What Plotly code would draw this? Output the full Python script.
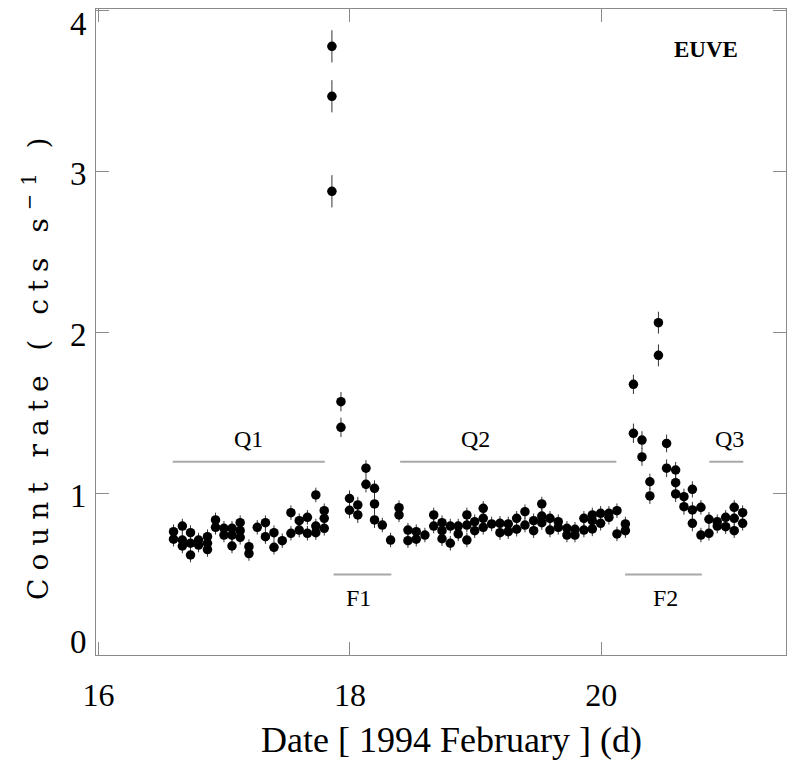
import plotly.graph_objects as go

# EUVE light curve, 1994 February: one time per orbit, several rates per orbit
orbit_date = [
    16.597, 16.667, 16.732, 16.796, 16.867, 16.931, 16.998, 17.062, 17.127,
    17.197, 17.263, 17.328, 17.396, 17.462, 17.531, 17.597, 17.662, 17.729,
    17.796, 17.857, 17.929, 17.997, 18.063, 18.128, 18.196, 18.258, 18.324,
    18.391, 18.462, 18.528, 18.597, 18.667, 18.733, 18.799, 18.862, 18.931,
    18.993, 19.061, 19.128, 19.194, 19.260, 19.327, 19.393, 19.462, 19.527,
    19.592, 19.658, 19.727, 19.791, 19.862, 19.929, 19.995, 20.061, 20.125,
    20.192, 20.256, 20.324, 20.387, 20.455, 20.520, 20.592, 20.658, 20.725,
    20.793, 20.857, 20.923, 20.990, 21.058, 21.125,
]

orbit_rates = [
    [0.766, 0.719], [0.801, 0.714, 0.677], [0.760, 0.694, 0.621], [0.714, 0.683],
    [0.735, 0.694, 0.655], [0.839, 0.793], [0.787, 0.745], [0.787, 0.745, 0.677],
    [0.822, 0.772, 0.731], [0.673, 0.630], [0.793], [0.822, 0.735], [0.760, 0.669],
    [0.710], [0.884, 0.756], [0.834, 0.776], [0.855, 0.756], [0.994, 0.801, 0.760],
    [0.896, 0.849, 0.787], [3.78, 3.47, 2.88], [1.573, 1.414], [0.972, 0.899],
    [0.932, 0.870], [1.160, 1.060], [1.035, 0.938, 0.839], [0.807], [0.714],
    [0.915, 0.870], [0.776, 0.710], [0.766, 0.719], [0.745], [0.870, 0.801],
    [0.822, 0.772, 0.722], [0.801, 0.694], [0.801, 0.752], [0.870, 0.807, 0.714],
    [0.828, 0.772], [0.911, 0.849, 0.793], [0.814], [0.818, 0.760], [0.814, 0.766],
    [0.849, 0.781], [0.890, 0.807], [0.834, 0.772], [0.938, 0.863, 0.822],
    [0.849, 0.776], [0.828, 0.793], [0.787, 0.745], [0.781, 0.745], [0.849, 0.776],
    [0.870, 0.834, 0.783], [0.880, 0.818], [0.880, 0.855], [0.896, 0.752],
    [0.814, 0.772], [1.681, 1.377], [1.335, 1.230], [1.076, 0.988], [2.064, 1.861],
    [1.314, 1.160], [1.149, 1.070, 1.000], [0.983, 0.921], [1.029, 0.901, 0.818],
    [0.917, 0.745], [0.843, 0.756], [0.828, 0.801], [0.855, 0.797],
    [0.917, 0.849, 0.772], [0.884, 0.818],
]

orbit_err = [
    0.045, 0.045, 0.045, 0.045, 0.045, 0.045, 0.045, 0.045, 0.045,
    0.045, 0.045, 0.045, 0.045, 0.045, 0.045, 0.045, 0.045, 0.045,
    0.045, 0.100, 0.060, 0.050, 0.050, 0.050, 0.050, 0.045, 0.045,
    0.045, 0.045, 0.045, 0.045, 0.045, 0.045, 0.045, 0.045, 0.045,
    0.045, 0.045, 0.045, 0.045, 0.045, 0.045, 0.045, 0.045, 0.045,
    0.045, 0.045, 0.045, 0.045, 0.045, 0.045, 0.045, 0.045, 0.045,
    0.045, 0.060, 0.055, 0.050, 0.068, 0.055, 0.050, 0.050, 0.050,
    0.045, 0.045, 0.045, 0.045, 0.045, 0.045,
]

# Quiescent (Q) and flare (F) intervals
interval_name = ["Q1", "Q2", "Q3", "F1", "F2"]
interval_start = [16.59, 18.40, 20.86, 17.87, 20.19]
interval_end = [17.80, 20.12, 21.13, 18.33, 20.80]
interval_level = [1.2, 1.2, 1.2, 0.5, 0.5]
interval_label_date = [17.19, 19.00, 21.02, 18.07, 20.51]

x_ticks = [16, 18, 20]
y_ticks = [0, 1, 2, 3, 4]

date = [d for d, rs in zip(orbit_date, orbit_rates) for _ in rs]
rate = [r for rs in orbit_rates for r in rs]
err = [e for e, rs in zip(orbit_err, orbit_rates) for _ in rs]

SERIF = "Liberation Serif, Times New Roman, serif"
AXIS_GREY = "#8a8a8a"

fig = go.Figure()

# interval bars
for name, a, b, lvl in zip(interval_name, interval_start, interval_end, interval_level):
    fig.add_trace(go.Scatter(
        x=[a, b], y=[lvl, lvl], mode="lines",
        line=dict(color="#a8a8a8", width=2),
        hoverinfo="skip", showlegend=False,
    ))

fig.add_trace(go.Scatter(
    x=date, y=rate, mode="markers",
    marker=dict(color="black", size=9.5),
    error_y=dict(type="data", array=err, visible=True,
                 thickness=1, width=0, color="#333333"),
    showlegend=False,
))

annotations = []
for name, a, b, lvl, lx in zip(interval_name, interval_start, interval_end,
                               interval_level, interval_label_date):
    above = lvl > 1
    annotations.append(dict(
        x=lx, y=lvl, xref="x", yref="y", text=name, showarrow=False,
        yshift=23 if above else -24,
        font=dict(family=SERIF, size=24, color="black"),
    ))

annotations.append(dict(
    x=20.83, y=3.76, xref="x", yref="y", text="<b>EUVE</b>", showarrow=False,
    font=dict(family=SERIF, size=23, color="black"),
))

for v in y_ticks:
    if v == y_ticks[0]:
        anchor, shift = "bottom", -7
    elif v == y_ticks[-1]:
        anchor, shift = "top", 7
    else:
        anchor, shift = "middle", -2
    annotations.append(dict(
        x=0, y=v, xref="paper", yref="y", text=str(v), showarrow=False,
        xanchor="right", yanchor=anchor, xshift=-7, yshift=shift,
        font=dict(family=SERIF, size=33, color="black"),
    ))

annotations.append(dict(
    x=-0.0855, y=0.449, xref="paper", yref="paper",
    text="Count rate ( cts s<sup>\u22121</sup> )", textangle=-90, showarrow=False,
    xanchor="center", yanchor="middle",
    font=dict(family="DejaVu Serif, serif", size=28, color="black"),
))

annotations.append(dict(
    x=0.5145, y=-0.1316, xref="paper", yref="paper",
    text="Date [ 1994 February ] (d)", showarrow=False,
    xanchor="center", yanchor="middle",
    font=dict(family=SERIF, size=36, color="black"),
))

fig.update_layout(
    width=787, height=761, autosize=False,
    margin=dict(l=96, r=1, t=9, b=106),
    paper_bgcolor="white", plot_bgcolor="white",
    annotations=annotations,
    showlegend=False,
)

fig.update_xaxes(
    range=[15.98, 21.47], tickvals=x_ticks, ticktext=[str(t) for t in x_ticks],
    ticks="inside", ticklen=13, tickwidth=1, tickcolor=AXIS_GREY,
    showline=True, linecolor=AXIS_GREY, linewidth=1, mirror="ticks",
    showgrid=False, zeroline=False,
    tickfont=dict(family=SERIF, size=32, color="black"),
    ticklabelstandoff=12,
)
fig.update_yaxes(
    range=[0, 4.012], tickvals=y_ticks, showticklabels=False,
    ticks="inside", ticklen=13, tickwidth=1, tickcolor=AXIS_GREY,
    showline=True, linecolor=AXIS_GREY, linewidth=1, mirror="ticks",
    showgrid=False, zeroline=False,
)

# widen the letter spacing of the rotated axis title
spacing_js = """
var gd = document.getElementById('{plot_id}');
gd.querySelectorAll('.annotation-text').forEach(function (el) {
  if (el.textContent.indexOf('Count rate') === 0) { el.style.letterSpacing = '8px'; }
});
"""

fig.write_html("out.html", post_script=spacing_js)
